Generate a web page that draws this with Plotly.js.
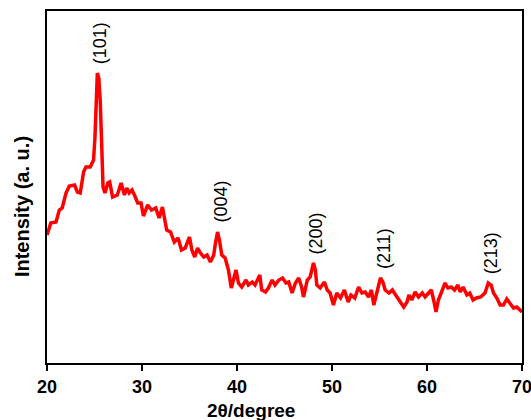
<!DOCTYPE html>
<html>
<head>
<meta charset="utf-8">
<script src="https://cdn.plot.ly/plotly-3.0.1.min.js"></script>
<style>html,body{margin:0;padding:0;background:#fff;}#chart{width:531px;height:420px;}</style>
</head>
<body>
<div id="chart"></div>
<script>
const twoTheta = [20.0,20.4,20.95,21.3,21.6,22.0,22.35,22.9,23.2,23.5,23.85,24.1,24.55,24.9,25.05,25.2,25.3,25.45,25.6,25.75,25.9,26.1,26.4,26.6,26.9,27.4,27.8,28.15,28.4,28.65,28.95,29.2,29.55,29.9,30.15,30.6,31.0,31.45,31.8,32.15,32.6,33.0,33.4,33.8,34.15,34.55,35.0,35.25,35.55,35.85,36.15,36.5,36.85,37.2,37.55,37.7,37.95,38.15,38.4,38.75,39.1,39.4,39.65,39.9,40.15,40.5,40.95,41.2,41.6,41.9,42.4,42.6,43.0,43.3,43.7,44.0,44.4,44.8,45.15,45.45,45.8,46.15,46.5,46.8,47.0,47.4,47.7,48.05,48.25,48.4,48.75,49.2,49.5,49.8,50.15,50.5,50.9,51.3,51.7,52.0,52.4,52.8,53.15,53.5,53.85,54.15,54.4,54.75,55.1,55.35,55.6,56.0,56.35,56.7,57.1,57.55,57.9,58.1,58.4,58.75,59.1,59.5,59.8,60.2,60.45,60.7,60.95,61.2,61.6,61.9,62.2,62.55,62.9,63.25,63.5,63.8,64.2,64.5,64.85,65.2,65.65,66.1,66.45,66.75,67.0,67.35,67.7,68.05,68.4,68.75,69.1,69.45,69.8,70.0];
const intensity = [128,140,141,153,155,170,177,178,171,170,191,196,196,203,226,270,290,285,263,220,176,170,180,181,166,168,180,168,175,170,173,168,160,160,147,158,153,155,145,156,133,131,121,125,113,115,126,113,106,115,110,106,108,101,108,118,131,123,108,105,93,75,83,93,80,76,83,78,81,78,88,73,71,75,83,78,83,85,80,81,70,80,85,76,66,83,86,100,93,78,75,81,73,70,58,70,65,73,61,68,65,76,70,71,66,73,58,73,85,81,73,70,73,68,63,56,61,68,63,71,66,70,66,71,73,63,51,63,73,80,75,76,73,78,71,76,68,70,63,65,66,70,80,78,70,65,58,58,64,60,55,56,53,51];
const xTicks = [20,30,40,50,60,70];
const peakLabels = ["(101)","(004)","(200)","(211)","(213)"];
const peakX = [25.3,37.95,48.05,55.1,66.45];
const peakY = [290,131,100,85,80];

const font = "Liberation Sans, Arial, sans-serif";
const annotations = peakLabels.map((t,i)=>({
  text:t, x:peakX[i], y:peakY[i], xref:'x', yref:'y', showarrow:false,
  textangle:-90, xanchor:'center', yanchor:'bottom', yshift:7, xshift:3,
  font:{family:font, size:18, color:'#000'}
}));
annotations.push({text:'2θ/degree', xref:'paper', yref:'paper', x:0.4295, y:-0.136,
  xanchor:'center', yanchor:'middle', showarrow:false,
  font:{family:font, size:19, color:'#000', weight:'bold'}});
annotations.push({text:'Intensity (a. u.)', xref:'paper', yref:'paper', x:-0.0526, y:0.443,
  xanchor:'center', yanchor:'middle', showarrow:false, textangle:-90,
  font:{family:font, size:20, color:'#000', weight:'bold'}});

Plotly.newPlot('chart', [{
  x: twoTheta, y: intensity, type:'scatter', mode:'lines',
  line:{color:'#ff0000', width:3.5}, hoverinfo:'skip'
}], {
  width:531, height:420,
  margin:{l:47, r:9, t:11, b:57, pad:0},
  paper_bgcolor:'#fff', plot_bgcolor:'#fff',
  showlegend:false,
  xaxis:{range:[20,70], tickvals:xTicks, ticktext:xTicks.map(String), ticks:'outside', ticklen:6, tickwidth:2,
    tickcolor:'#000', showline:true, linewidth:2, linecolor:'#000', mirror:true, showgrid:false, zeroline:false,
    ticklabeloverflow:'allow',
    tickfont:{family:font, size:18, color:'#000', weight:'bold'}},
  yaxis:{range:[0,352], showticklabels:false, ticks:'', showline:true, linewidth:2, linecolor:'#000',
    mirror:true, showgrid:false, zeroline:false},
  annotations: annotations
}, {staticPlot:true, displayModeBar:false});
</script>
</body>
</html>
